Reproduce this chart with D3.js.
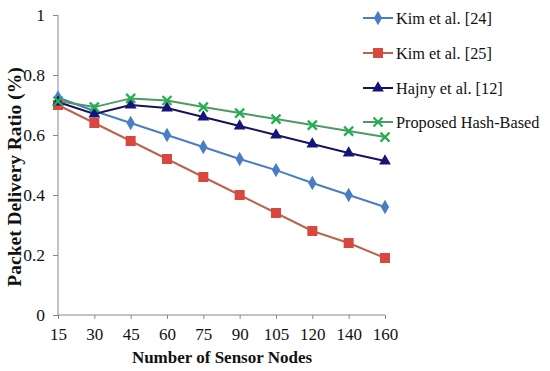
<!DOCTYPE html>
<html><head><meta charset="utf-8">
<script src="https://cdn.jsdelivr.net/npm/d3@7"></script>
<style>body{margin:0;background:#fff}svg{display:block}</style>
</head><body><svg id="c" width="550" height="371"></svg>
<script>
const categories = [15, 30, 45, 60, 75, 90, 105, 120, 140, 160];
const kim24 = [0.725, 0.68, 0.64, 0.60, 0.56, 0.52, 0.483, 0.44, 0.40, 0.36];
const kim25 = [0.70, 0.64, 0.58, 0.52, 0.46, 0.40, 0.34, 0.28, 0.24, 0.19];
const hajny = [0.71, 0.67, 0.70, 0.69, 0.66, 0.63, 0.60, 0.57, 0.54, 0.513];
const proposed = [0.713, 0.693, 0.722, 0.715, 0.693, 0.673, 0.653, 0.633, 0.613, 0.593];
const seriesNames = ["Kim et al. [24]", "Kim et al. [25]", "Hajny et al. [12]", "Proposed Hash-Based"];
const yTicks = [0, 0.2, 0.4, 0.6, 0.8, 1];

const series = [
  {name: seriesNames[0], values: kim24, line: "#4a7ec4", fill: "#4a7ec4", shape: "diamond"},
  {name: seriesNames[1], values: kim25, line: "#b8654c", fill: "#d9473f", shape: "square"},
  {name: seriesNames[2], values: hajny, line: "#14145e", fill: "#14147a", shape: "triangle"},
  {name: seriesNames[3], values: proposed, line: "#4e9a62", fill: "#1fb04f", shape: "x"}
];

const svg = d3.select("#c");
const x = d3.scalePoint().domain(categories).range([58, 385]);
const y = d3.scaleLinear().domain([0, 1]).range([315, 15]);
const axisColor = "#888";
const font = "'Liberation Serif','Times New Roman',serif";

// Y axis
const ya = svg.append("g").attr("transform", "translate(58,0)")
  .call(d3.axisLeft(y).tickValues(yTicks).tickSize(5).tickPadding(8).tickFormat(d => d === 0 || d === 1 ? String(d) : d3.format(".1f")(d)));
ya.attr("font-family", font);
ya.select(".domain").attr("stroke", axisColor).attr("d", "M0,15V315");
ya.selectAll(".tick line").attr("stroke", axisColor);
ya.selectAll(".tick text").attr("font-family", font).attr("font-size", 17.5).attr("fill", "#111");

// X axis
const xa = svg.append("g").attr("transform", "translate(0,315)")
  .call(d3.axisBottom(x).tickSize(4).tickPadding(9));
xa.attr("font-family", font);
xa.select(".domain").attr("stroke", axisColor).attr("d", "M58,0H385");
xa.selectAll(".tick line").attr("stroke", axisColor);
xa.selectAll(".tick text").attr("font-family", font).attr("font-size", 17).attr("fill", "#111");

// Axis titles
svg.append("text").attr("x", 222).attr("y", 363).attr("text-anchor", "middle")
  .attr("font-family", font).attr("font-weight", "bold").attr("font-size", 17).attr("fill", "#111")
  .text("Number  of Sensor Nodes");
svg.append("text").attr("transform", "translate(21,177) rotate(-90)").attr("text-anchor", "middle")
  .attr("font-family", font).attr("font-weight", "bold").attr("font-size", 19.5).attr("fill", "#111")
  .text("Packet Delivery Ratio (%)");

function marker(g, shape, fill) {
  if (shape === "diamond") g.append("path").attr("d", d3.symbol(d3.symbolDiamond, 60)()).attr("fill", fill);
  else if (shape === "square") g.append("rect").attr("x", -5).attr("y", -5).attr("width", 10).attr("height", 10).attr("fill", fill);
  else if (shape === "triangle") g.append("path").attr("d", d3.symbol(d3.symbolTriangle, 60)()).attr("fill", fill);
  else g.append("path").attr("d", "M-4.5,-4.5L4.5,4.5M-4.5,4.5L4.5,-4.5").attr("stroke", fill).attr("stroke-width", 2.2).attr("fill", "none");
}

const line = d3.line().x((d, i) => x(categories[i])).y(d => y(d));
series.forEach(s => {
  svg.append("path").datum(s.values).attr("d", line).attr("fill", "none").attr("stroke", s.line).attr("stroke-width", 2);
});
series.forEach(s => {
  s.values.forEach((v, i) => {
    const g = svg.append("g").attr("transform", `translate(${x(categories[i])},${y(v)})`);
    marker(g, s.shape, s.fill);
  });
});

// Legend
const legY = [18, 53, 88, 122];
series.forEach((s, i) => {
  const g = svg.append("g").attr("transform", `translate(0,${legY[i]})`);
  g.append("line").attr("x1", 363).attr("x2", 393).attr("y1", 0).attr("y2", 0).attr("stroke", s.line).attr("stroke-width", 2);
  const m = g.append("g").attr("transform", "translate(378,0)");
  marker(m, s.shape, s.fill);
  g.append("text").attr("x", 396).attr("y", 5.5).attr("font-family", font).attr("font-size", 16.3).attr("fill", "#111").text(s.name);
});
</script></body></html>
